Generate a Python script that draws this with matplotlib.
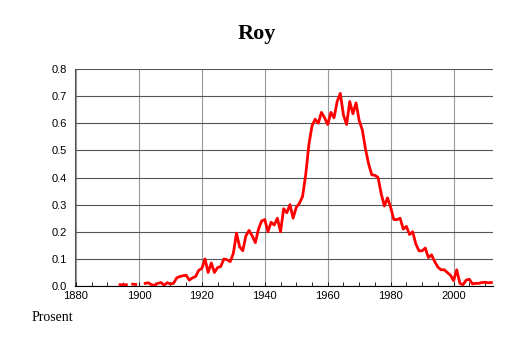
import numpy as np
import matplotlib
matplotlib.use("Agg")
import matplotlib.pyplot as plt
from matplotlib.ticker import MultipleLocator

# share of newborns named Roy, percent (NaN = no data)
years = np.arange(1894, 2013)
early = [0.005, 0.005, 0.005, np.nan, 0.007, 0.006, np.nan, np.nan]  # 1894-1901
values = early + [
    0.010, 0.012, 0.005, 0.003, 0.010, 0.013, 0.003, 0.012, 0.008, 0.010,  # 1902-1911
    0.030, 0.035, 0.038, 0.040, 0.022, 0.030, 0.035, 0.058, 0.065, 0.100,  # 1912-1921
    0.050, 0.085, 0.050, 0.068, 0.072, 0.100, 0.097, 0.090, 0.120, 0.195,  # 1922-1931
    0.145, 0.130, 0.185, 0.205, 0.185, 0.160, 0.210, 0.240, 0.245, 0.200,  # 1932-1941
    0.235, 0.225, 0.250, 0.200, 0.285, 0.270, 0.300, 0.250, 0.290, 0.305,  # 1942-1951
    0.330, 0.410, 0.520, 0.590, 0.615, 0.600, 0.640, 0.620, 0.595, 0.640,  # 1952-1961
    0.620, 0.680, 0.710, 0.630, 0.595, 0.680, 0.635, 0.675, 0.610, 0.575,  # 1962-1971
    0.505, 0.450, 0.410, 0.408, 0.400, 0.340, 0.295, 0.325, 0.290, 0.245,  # 1972-1981
    0.245, 0.250, 0.210, 0.220, 0.190, 0.200, 0.155, 0.130, 0.130, 0.140,  # 1982-1991
    0.105, 0.115, 0.090, 0.070, 0.060, 0.060, 0.050, 0.040, 0.020, 0.060,  # 1992-2001
    0.010, 0.005, 0.022, 0.025, 0.008, 0.010, 0.010, 0.013, 0.014, 0.012,  # 2002-2011
    0.013,                                                                 # 2012
]
values = np.array(values, dtype=float)

xticks = [1880, 1900, 1920, 1940, 1960, 1980, 2000]
yticks = [0.0, 0.1, 0.2, 0.3, 0.4, 0.5, 0.6, 0.7, 0.8]

fig = plt.figure(figsize=(5.14, 3.43), dpi=100)
ax = fig.add_axes([0.146, 0.166, 0.813, 0.633])

ax.plot(years, values, color="red", lw=2.0, zorder=3)

ax.set_xlim(1879.7, 2012.5)
ax.set_ylim(0, 0.8)
ax.set_xticks(xticks)
ax.set_yticks(yticks)
ax.set_yticklabels([f"{v:.1f}" for v in yticks])
ax.xaxis.set_minor_locator(MultipleLocator(5))

ax.grid(axis="y", color="#555555", lw=0.8)
ax.grid(axis="x", color="#999999", lw=0.8)
ax.set_axisbelow(True)
for side in ["top", "right"]:
    ax.spines[side].set_visible(False)
ax.spines["left"].set_color("#555555")
ax.spines["left"].set_linewidth(0.8)
ax.spines["bottom"].set_color("black")
ax.spines["bottom"].set_linewidth(0.8)
for lbl in ax.get_xticklabels() + ax.get_yticklabels():
    lbl.set_family("Liberation Sans")
ax.tick_params(axis="both", labelsize=8)
ax.tick_params(axis="y", length=0, pad=6)
ax.tick_params(axis="x", which="both", direction="in", length=3, width=0.6, pad=3.5)

fig.text(0.5, 0.9, "Roy", ha="center", va="center", fontsize=16,
         fontweight="bold", family="Liberation Serif")
fig.text(0.062, 0.073, "Prosent", ha="left", va="center", fontsize=10,
         family="Liberation Serif")

fig.savefig("out.png", dpi=100)
